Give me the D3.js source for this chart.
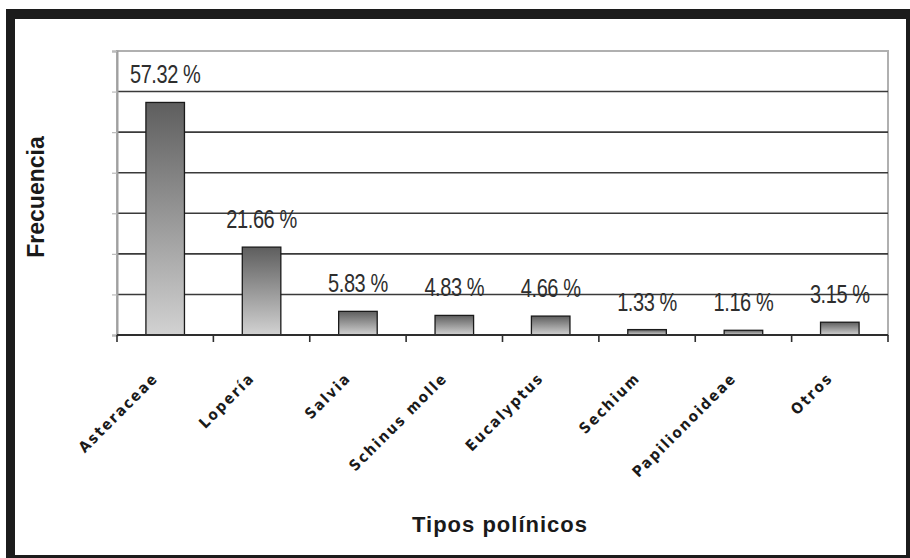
<!DOCTYPE html>
<html><head><meta charset="utf-8">
<script src="https://cdn.jsdelivr.net/npm/d3@7"></script>
<style>
html,body{margin:0;padding:0;background:#fff;}
svg{display:block;}
</style></head>
<body>
<svg id="chart" width="910" height="558"></svg>
<script>
const categories = ["Asteraceae","Lopería","Salvia","Schinus molle","Eucalyptus","Sechium","Papilionoideae","Otros"];
const values = [57.32, 21.66, 5.83, 4.83, 4.66, 1.33, 1.16, 3.15];
const valueLabels = ["57.32 %","21.66 %","5.83 %","4.83 %","4.66 %","1.33 %","1.16 %","3.15 %"];
const yTicks = [0,10,20,30,40,50,60,70];
const yTitle = "Frecuencia";
const xTitle = "Tipos polínicos";

const svg = d3.select("#chart");
const W = 910, H = 558;
const m = {left:117, right:22, top:51, bottom:223};
const pw = W - m.left - m.right, ph = H - m.top - m.bottom;

// frame
svg.append("rect").attr("x",0).attr("y",0).attr("width",W).attr("height",H).attr("fill","#fff");
svg.append("rect").attr("x",6).attr("y",9).attr("width",901).attr("height",10).attr("fill","#1c1c1c");
svg.append("rect").attr("x",6).attr("y",9).attr("width",9).attr("height",549).attr("fill","#1c1c1c");
svg.append("rect").attr("x",906).attr("y",9).attr("width",4).attr("height",549).attr("fill","#1c1c1c");
svg.append("rect").attr("x",6).attr("y",555).attr("width",904).attr("height",3).attr("fill","#1c1c1c");

const defs = svg.append("defs");
const grad = defs.append("linearGradient").attr("id","barGrad")
  .attr("x1",0).attr("y1",0).attr("x2",0).attr("y2",1);
grad.append("stop").attr("offset","0%").attr("stop-color","#5e5e5e");
grad.append("stop").attr("offset","100%").attr("stop-color","#d2d2d2");

const g = svg.append("g").attr("transform",`translate(${m.left},${m.top})`);

const x = d3.scaleBand().domain(categories).range([0,pw]).paddingInner(0.6).paddingOuter(0.3);
const y = d3.scaleLinear().domain([0,70]).range([ph,0]);

// plot border (grey)
g.append("rect").attr("x",0).attr("y",0).attr("width",pw).attr("height",ph)
  .attr("fill","#fff").attr("stroke","#b0b0b0").attr("stroke-width",2);

// gridlines
g.append("g").selectAll("line").data(yTicks.filter(t=>t>0 && t<70)).join("line")
  .attr("x1",0).attr("x2",pw).attr("y1",d=>y(d)).attr("y2",d=>y(d))
  .attr("stroke","#3a3a3a").attr("stroke-width",1.6);

// y axis
const yAxis = g.append("g").call(d3.axisLeft(y).tickValues(yTicks).tickSize(5).tickFormat(""));
yAxis.select(".domain").attr("stroke","#a0a0a0").attr("stroke-width",2);
yAxis.selectAll(".tick line").attr("stroke","#bbbbbb").attr("stroke-width",1.2);

// bars
g.append("g").selectAll("rect").data(values).join("rect")
  .attr("x",(d,i)=>x(categories[i]))
  .attr("y",d=>y(d))
  .attr("width",x.bandwidth())
  .attr("height",d=>y(0)-y(d))
  .attr("fill","url(#barGrad)")
  .attr("stroke","#1a1a1a").attr("stroke-width",1.3);

// value labels (condensed look)
g.append("g").selectAll("text").data(values).join("text")
  .attr("transform",(d,i)=>`translate(${x(categories[i])+x.bandwidth()/2},${y(d)-19}) scale(0.8,1)`)
  .attr("text-anchor","middle")
  .attr("font-family","'Liberation Sans',Arial,sans-serif")
  .attr("font-size",25)
  .attr("fill","#2e2e2e")
  .attr("letter-spacing",-0.5)
  .text((d,i)=>valueLabels[i]);

// x axis
g.append("line").attr("x1",0).attr("x2",pw).attr("y1",ph).attr("y2",ph)
  .attr("stroke","#2e2e2e").attr("stroke-width",2);
g.append("g").selectAll("line").data(d3.range(categories.length+1)).join("line")
  .attr("x1",i=>i===categories.length?pw:x(categories[i])-x.step()*x.paddingOuter())
  .attr("x2",i=>i===categories.length?pw:x(categories[i])-x.step()*x.paddingOuter())
  .attr("y1",ph).attr("y2",ph+7)
  .attr("stroke","#2e2e2e").attr("stroke-width",1.6);

// x labels
g.append("g").selectAll("text").data(categories).join("text")
  .attr("transform",d=>`translate(${x(d)+x.bandwidth()/2-6},${ph+44}) rotate(-45)`)
  .attr("text-anchor","end")
  .attr("font-family","'DejaVu Sans Condensed','DejaVu Sans',sans-serif")
  .attr("font-weight","bold")
  .attr("font-size",15)
  .attr("letter-spacing",2)
  .attr("fill","#1a1a1a")
  .text(d=>d);

// titles
svg.append("text").attr("transform","translate(44,197) rotate(-90)")
  .attr("text-anchor","middle")
  .attr("font-family","'Liberation Sans',Arial,sans-serif")
  .attr("font-weight","bold").attr("font-size",23).attr("fill","#1a1a1a")
  .text(yTitle);
svg.append("text").attr("x",500).attr("y",532)
  .attr("text-anchor","middle")
  .attr("font-family","'Liberation Sans',Arial,sans-serif")
  .attr("font-weight","bold").attr("font-size",22).attr("letter-spacing",1).attr("fill","#1a1a1a")
  .text(xTitle);
</script>
</body></html>
